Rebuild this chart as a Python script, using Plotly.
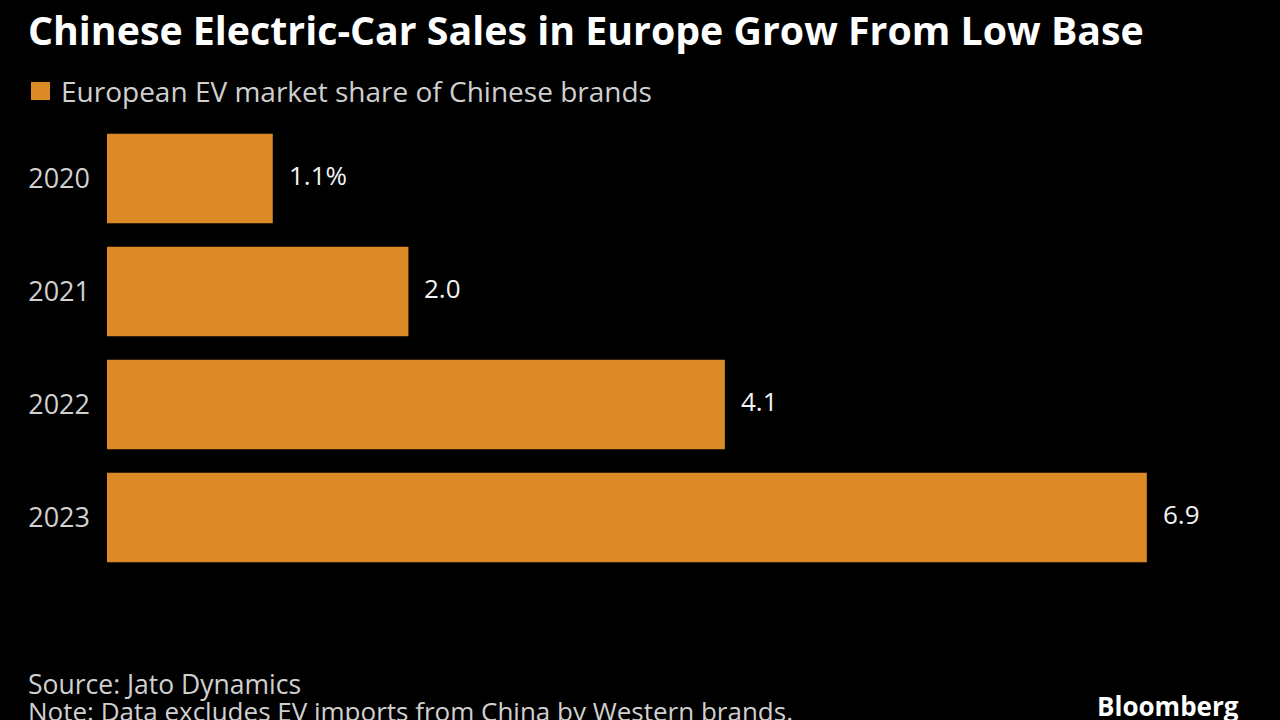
import plotly.graph_objects as go

years = ["2020", "2021", "2022", "2023"]
share = [1.1, 2.0, 4.1, 6.9]
series_name = "European EV market share of Chinese brands"
title = "Chinese Electric-Car Sales in Europe Grow From Low Base"
source = "Source: Jato Dynamics"
note = "Note: Data excludes EV imports from China by Western brands."

W, H = 1280, 720
L, R, T, B = 107, 1222, 122, 574
BAR = "#DC8A26"
FONT = "Open Sans"

def px(x):
    return (x - L) / (R - L)

def py(y):
    return (B - y) / (B - T)

labels = [f"{v:.1f}%" if i == 0 else f"{v:.1f}" for i, v in enumerate(share)]
pos = list(range(len(years)))

fig = go.Figure()
fig.add_trace(go.Bar(
    x=share, y=pos, orientation="h", marker=dict(color=BAR, line=dict(width=0)),
    name=series_name, showlegend=False, hoverinfo="skip",
))

for v, p, lab in zip(share, pos, labels):
    fig.add_annotation(x=v, y=p, xref="x", yref="y", text=lab, showarrow=False,
                       xanchor="left", yanchor="middle", xshift=14, yshift=4,
                       font=dict(family=FONT, size=26, color="#f2f2f2"))

# title
fig.add_annotation(x=px(26), y=py(30), xref="paper", yref="paper", text=f"<b>{title}</b>",
                   showarrow=False, xanchor="left", yanchor="middle",
                   font=dict(family=FONT, size=39.3, color="#ffffff"))
# legend
fig.add_shape(type="rect", xref="paper", yref="paper", x0=px(31), x1=px(50), y0=py(100), y1=py(82),
              fillcolor=BAR, line=dict(width=0))
fig.add_annotation(x=px(59), y=py(91), xref="paper", yref="paper", text=series_name,
                   showarrow=False, xanchor="left", yanchor="middle",
                   font=dict(family=FONT, size=28, color="#d0d0d0"))
# footer
fig.add_annotation(x=px(26), y=py(684), xref="paper", yref="paper", text=source,
                   showarrow=False, xanchor="left", yanchor="middle",
                   font=dict(family=FONT, size=26.5, color="#d0d0d0"))
fig.add_annotation(x=px(26), y=py(711), xref="paper", yref="paper", text=note,
                   showarrow=False, xanchor="left", yanchor="middle",
                   font=dict(family=FONT, size=26, color="#d0d0d0"))
fig.add_annotation(x=px(1241), y=py(706), xref="paper", yref="paper", text="<b>Bloomberg</b>",
                   showarrow=False, xanchor="right", yanchor="middle",
                   font=dict(family=FONT, size=26, color="#ffffff"))

fig.update_layout(
    width=W, height=H, autosize=False,
    margin=dict(l=L, r=W - R, t=T, b=H - B, pad=0),
    paper_bgcolor="#000000", plot_bgcolor="#000000",
    bargap=0.21,
    xaxis=dict(range=[0, (R - L) / 150.7], visible=False, fixedrange=True),
    yaxis=dict(range=[len(years) - 0.5, -0.5], tickmode="array", tickvals=pos, ticktext=years,
               showgrid=False, zeroline=False, showline=False, ticks="", ticklabelstandoff=16,
               fixedrange=True, tickfont=dict(family=FONT, size=27, color="#d0d0d0")),
    showlegend=False,
)

fig.write_html("out.html", config={"displayModeBar": False},
               post_script="document.body.style.margin='0';document.body.style.background='#000';")
